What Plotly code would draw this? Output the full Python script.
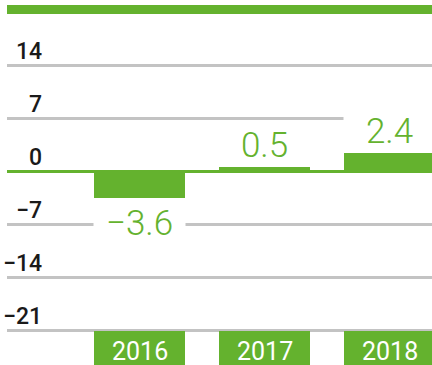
import plotly.graph_objects as go

# Data
years = ["2016", "2017", "2018"]
values = [-3.6, 0.5, 2.4]
value_labels = ["\u22123.6", "0.5", "2.4"]
tick_vals = [14, 7, 0, -7, -14, -21]
tick_text = ["14", "7", "0", "\u22127", "\u221214", "\u221221"]

GREEN = "#64b22e"
GRID = "#c3c3c3"
W, H = 432, 365
LEFT = 7
BAR_W = 0.728

fig = go.Figure()
fig.add_trace(go.Bar(
    x=years, y=values, width=BAR_W,
    marker=dict(color=GREEN, line=dict(width=0)),
    hoverinfo="skip",
))

annotations = []
# value labels with white backing that masks gridlines
for i, (v, lab) in enumerate(zip(values, value_labels)):
    pos = v >= 0
    annotations.append(dict(
        x=i, y=v, xref="x", yref="y",
        text=lab, showarrow=False,
        xanchor="center", yanchor="bottom" if pos else "top",
        yshift=2 if pos else -4.5,
        width=89, height=36, borderpad=1,
        bgcolor="white",
        font=dict(family="Roboto", size=35, color=GREEN, weight=300),
    ))

# y tick labels sitting above their gridlines
for tv, tt in zip(tick_vals, tick_text):
    annotations.append(dict(
        x=(44 - LEFT) / (W - LEFT), y=tv, xref="paper", yref="y",
        text=tt, showarrow=False,
        xanchor="right", yanchor="bottom", yshift=-2,
        font=dict(family="Roboto", size=23, color="#1a1a1a", weight=500),
    ))

# category labels on green tabs
shapes = []
for i, yr in enumerate(years):
    shapes.append(dict(
        type="rect", xref="x", yref="paper",
        x0=i - BAR_W / 2, x1=i + BAR_W / 2,
        y0=0, y1=34 / H, fillcolor=GREEN, line=dict(width=0), layer="above",
    ))
    annotations.append(dict(
        x=i, y=0, xref="x", yref="paper",
        text=yr, showarrow=False, xanchor="center", yanchor="bottom", yshift=-3,
        font=dict(family="Roboto", size=25, color="white"),
    ))

# top rule
shapes.append(dict(
    type="rect", xref="paper", yref="paper",
    x0=0, x1=1, y0=1 - 14 / H, y1=1 - 5 / H,
    fillcolor=GREEN, line=dict(width=0),
))

px_per_unit = 53 / 7
y_top = 14 + 65 / px_per_unit
y_bot = -21 - (H - 330) / px_per_unit
x_left = -(139.5 - LEFT) / 125
x_right = 2 + (W - 389.5) / 125

fig.update_layout(
    width=W, height=H,
    margin=dict(l=LEFT, r=0, t=0, b=0),
    paper_bgcolor="white", plot_bgcolor="white",
    showlegend=False,
    bargap=0,
    xaxis=dict(type="category", range=[x_left, x_right], showticklabels=False,
               showgrid=False, zeroline=False, showline=False, fixedrange=True),
    yaxis=dict(range=[y_bot, y_top], tickvals=tick_vals, showticklabels=False,
               showgrid=True, gridcolor=GRID, gridwidth=3,
               zeroline=True, zerolinecolor=GREEN, zerolinewidth=3,
               showline=False, fixedrange=True),
    annotations=annotations,
    shapes=shapes,
)

fig.write_html("out.html", config=dict(displayModeBar=False))
